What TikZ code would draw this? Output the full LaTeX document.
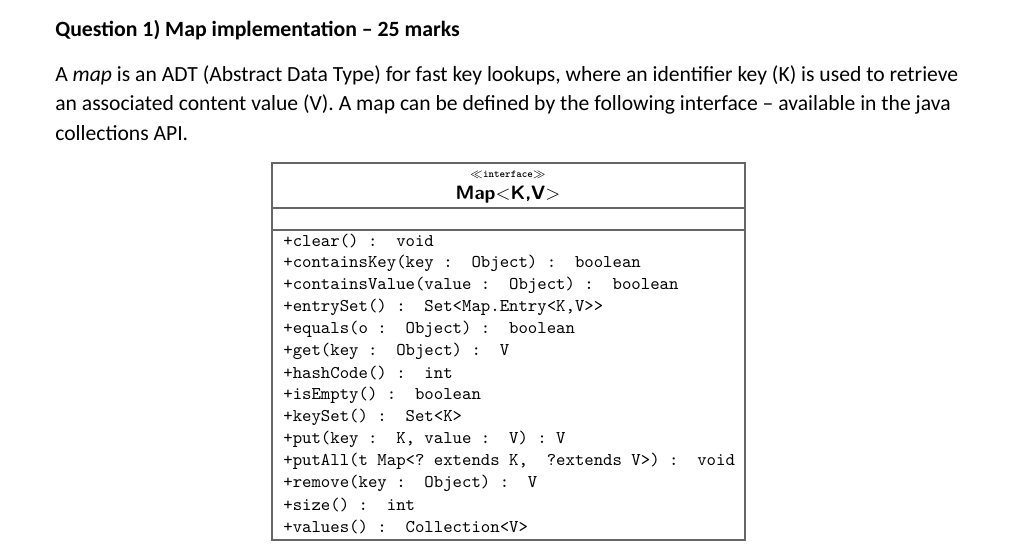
\documentclass[tikz,border=0pt]{standalone}
\usepackage{fontspec}
\setmainfont{Carlito}
\usetikzlibrary{positioning}
\begin{document}
\begin{tikzpicture}[x=0.02cm,y=-0.02cm]
    \useasboundingbox (0,0) rectangle (1013,552);
    \tikzset{para/.style={anchor=west, inner sep=0pt, font=\fontsize{12.3}{14}\selectfont},
             meth/.style={anchor=west, inner sep=0pt, font=\ttfamily\fontsize{10.2}{12}\selectfont}}
    % heading and text
    \node[para, font=\bfseries\fontsize{12.4}{14}\selectfont] (head) at (55,30) {Question 1) Map implementation -- 25 marks};
    \node[para] (l1) at (55,75) {A \textit{map} is an ADT (Abstract Data Type) for fast key lookups, where an identifier key (K) is used to retrieve};
    \node[para] (l2) at (55,104) {an associated content value (V). A map can be defined by the following interface -- available in the java};
    \node[para] (l3) at (55,133) {collections API.};

    % class box
    \draw[thick, black!60] (272,163) rectangle (745,540);
    \draw[thick, black!60] (272,208) -- (745,208);
    \draw[thick, black!60] (272,230) -- (745,230);
    \node[font=\ttfamily\fontsize{6}{7}\selectfont\bfseries] (stereo) at (508,175) {$\ll$interface$\gg$};
    \node[font=\sffamily\bfseries\fontsize{11}{13}\selectfont] (title) at (508,195) {Map$<$K,V$>$};

    % operations
    \foreach \txt [count=\i from 0] in {
        {+clear()~:~~void},
        {+containsKey(key~:~~Object)~:~~boolean},
        {+containsValue(value~:~~Object)~:~~boolean},
        {+entrySet()~:~~Set<Map.Entry<K,V>{}>},
        {+equals(o~:~~Object)~:~~boolean},
        {+get(key~:~~Object)~:~~V},
        {+hashCode()~:~~int},
        {+isEmpty()~:~~boolean},
        {+keySet()~:~~Set<K>},
        {+put(key~:~~K,~value~:~~V)~:~V},
        {+putAll(t~Map<?~extends~K,~~?extends~V>)~:~~void},
        {+remove(key~:~~Object)~:~~V},
        {+size()~:~~int},
        {+values()~:~~Collection<V>}}
        \node[meth] (op\i) at (283,241+22*\i) {\txt};
\end{tikzpicture}
\end{document}
